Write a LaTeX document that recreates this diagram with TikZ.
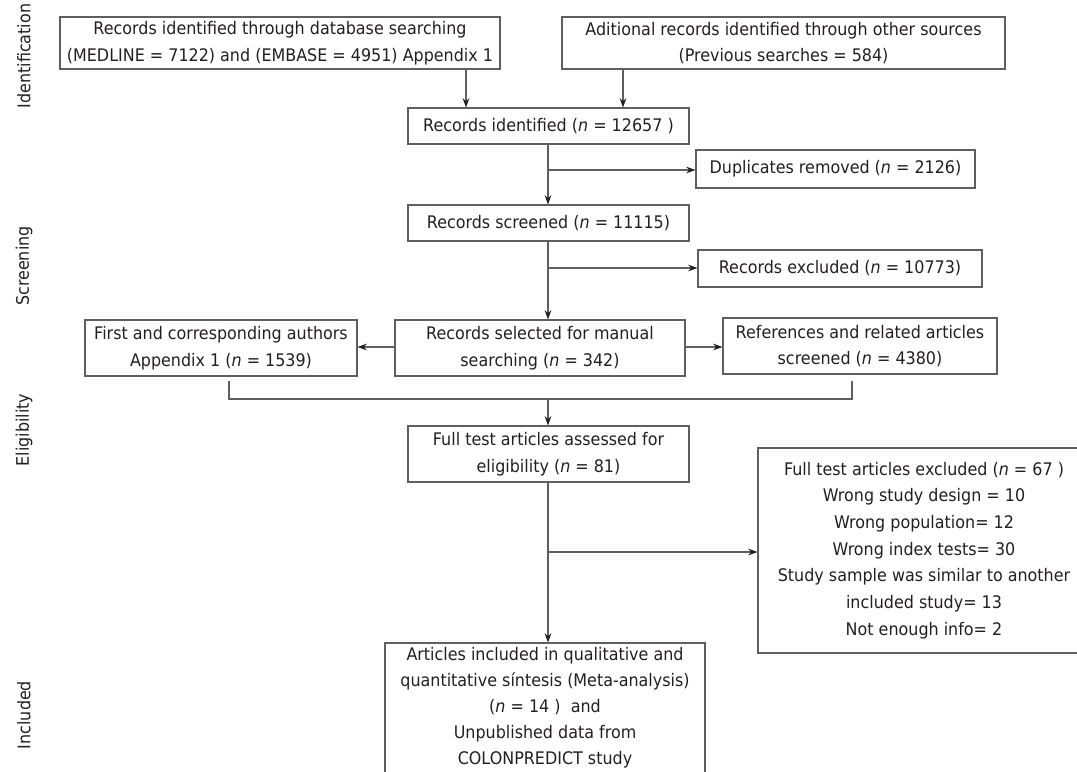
\documentclass[tikz,border=0pt]{standalone}
\usepackage{fontspec}
\setmainfont{DejaVu Sans}[FakeStretch=0.92]
\usetikzlibrary{arrows.meta}
\definecolor{linegray}{RGB}{95,95,95}
\definecolor{textcol}{RGB}{35,31,32}
\begin{document}
\begin{tikzpicture}[x=0.75pt,y=-0.75pt,
  every node/.style={text=textcol, font=\fontsize{13}{20}\selectfont},
  box/.style={draw=linegray, line width=0.8pt, inner sep=0pt, align=center},
  conn/.style={draw=linegray, line width=0.8pt},
  arr/.style={conn, -{Stealth[length=7pt,width=5pt,color=textcol]}},
  side/.style={rotate=90}]
\useasboundingbox (0,0) rectangle (1077,771);
\clip (0,0) rectangle (1077,771);
% stage labels
\node[side] (l1) at (24,56) {Identification};
\node[side] (l2) at (24,266) {Screening};
\node[side] (l3) at (24,430) {Eligibility};
\node[side] (l4) at (24,715) {Included};
% boxes
\node[box, minimum width=440*0.75pt, minimum height=52*0.75pt] (b1) at (280,43)
  {Records identified through database searching\\(MEDLINE = 7122) and (EMBASE = 4951) Appendix 1};
\node[box, minimum width=443*0.75pt, minimum height=52*0.75pt] (b2) at (783.5,43)
  {Aditional records identified through other sources\\(Previous searches = 584)};
\node[box, minimum width=281*0.75pt, minimum height=36*0.75pt] (b3) at (548.5,126)
  {Records identified (\textit{n} = 12657 )};
\node[box, minimum width=279*0.75pt, minimum height=38*0.75pt] (b4) at (835.5,169)
  {Duplicates removed (\textit{n} = 2126)};
\node[box, minimum width=281*0.75pt, minimum height=36*0.75pt] (b5) at (548.5,223)
  {Records screened (\textit{n} = 11115)};
\node[box, minimum width=284*0.75pt, minimum height=37*0.75pt] (b6) at (840,268.5)
  {Records excluded (\textit{n} = 10773)};
\node[box, minimum width=290*0.75pt, minimum height=56*0.75pt] (b7) at (540,348)
  {Records selected for manual\\searching (\textit{n} = 342)};
\node[box, minimum width=272*0.75pt, minimum height=56*0.75pt] (b8) at (221,348)
  {First and corresponding authors\\Appendix 1 (\textit{n} = 1539)};
\node[box, minimum width=274*0.75pt, minimum height=56*0.75pt] (b9) at (860,346)
  {References and related articles\\screened (\textit{n} = 4380)};
\node[box, minimum width=281*0.75pt, minimum height=56*0.75pt] (b10) at (548.5,454)
  {Full test articles assessed for\\eligibility (\textit{n} = 81)};
\node[box, minimum width=332*0.75pt, minimum height=205*0.75pt] (b11) at (924,550.5)
  {Full test articles excluded (\textit{n} = 67 )\\Wrong study design = 10\\Wrong population= 12\\Wrong index tests= 30\\Study sample was similar to another\\included study= 13\\Not enough info= 2};
\node[box, minimum width=320*0.75pt, minimum height=130*0.75pt, font=\fontsize{13}{19.5}\selectfont] (b12) at (545,708)
  {Articles included in qualitative and\\quantitative síntesis (Meta-analysis)\\(\textit{n} = 14 )~ and\\Unpublished data from\\COLONPREDICT study};
% helper coordinates
\coordinate (xa) at (466,0);
\coordinate (xb) at (623,0);
\coordinate (tr) at (548,0);
\coordinate (j1) at (548,170);
\coordinate (j2) at (548,268);
\coordinate (j3) at (548,552);
\coordinate (m8) at (229,381);
\coordinate (m9) at (852,381);
\coordinate (mj) at (548,399);
% connectors
\draw[arr] (b1.south -| xa) -- (b3.north -| xa);
\draw[arr] (b2.south -| xb) -- (b3.north -| xb);
\draw[arr] (b3.south -| tr) -- (b5.north -| tr);
\draw[arr] (j1) -- (b4.west |- j1);
\draw[arr] (b5.south -| tr) -- (b7.north -| tr);
\draw[arr] (j2) -- (b6.west |- j2);
\draw[arr] (b7.west |- 0,347) -- (b8.east |- 0,347);
\draw[arr] (b7.east |- 0,347) -- (b9.west |- 0,347);
\draw[conn] (m8) |- (m9 |- mj) -- (m9);
\draw[arr] (mj) -- (b10.north -| tr);
\draw[arr] (b10.south -| tr) -- (b12.north -| tr);
\draw[arr] (j3) -- (b11.west |- j3);
\end{tikzpicture}
\end{document}
